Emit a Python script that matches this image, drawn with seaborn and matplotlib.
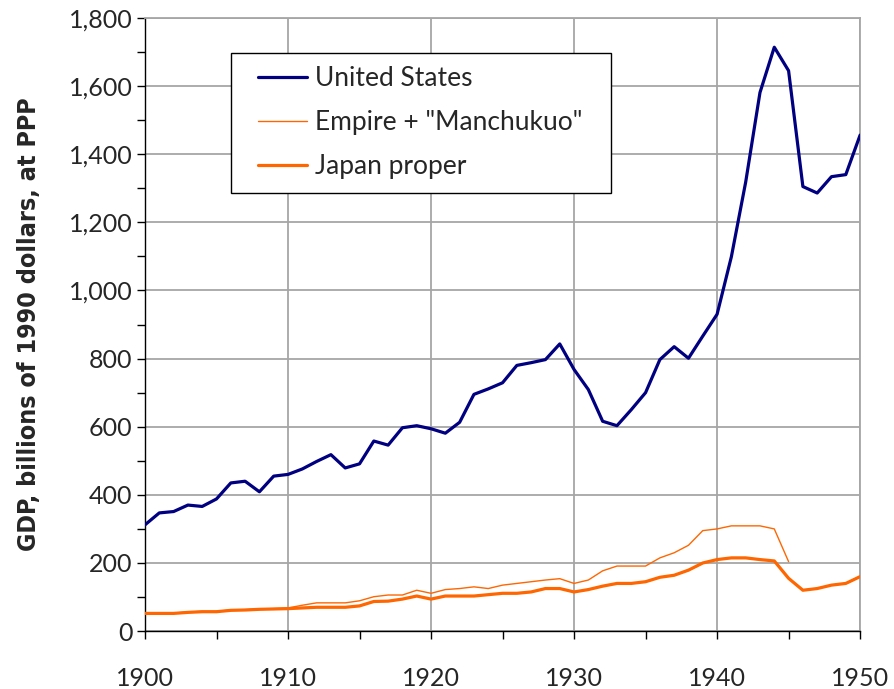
import numpy as np
import pandas as pd
import matplotlib
matplotlib.use("Agg")
import matplotlib.pyplot as plt
import seaborn as sns
from matplotlib.ticker import MultipleLocator, FuncFormatter
from matplotlib.patches import Rectangle

# GDP, billions of 1990 dollars at PPP
years = list(range(1900, 1951))

us_gdp = [312, 347, 351, 370, 366, 388, 435, 440, 409, 455,
          460, 476, 498, 518, 479, 491, 558, 546, 597, 603,
          594, 581, 613, 695, 711, 729, 780, 788, 797, 843,
          768, 709, 616, 603, 650, 700, 797, 835, 801, 866,
          930, 1099, 1318, 1581, 1714, 1645, 1305, 1286, 1334, 1340,
          1456]

empire_years = list(range(1900, 1946))
empire_gdp = [53, 53, 53, 56, 58, 58, 62, 63, 65, 66,
              68, 76, 83, 83, 83, 89, 101, 106, 106, 120,
              111, 122, 125, 130, 125, 135, 140, 145, 150, 154,
              140, 150, 177, 191, 191, 191, 215, 230, 252, 295,
              300, 309, 309, 309, 300, 204]

japan_gdp = [52, 52, 52, 55, 57, 57, 61, 62, 64, 65,
             66, 68, 70, 70, 70, 74, 87, 88, 94, 103,
             94, 103, 103, 103, 107, 111, 111, 115, 125, 125,
             115, 122, 132, 140, 140, 145, 158, 164, 179, 200,
             210, 215, 215, 210, 206, 155, 120, 125, 135, 140,
             160]

sns.set_style("white")
plt.rcParams['font.family'] = ['Lato', 'DejaVu Sans']

fig, ax = plt.subplots(figsize=(8.95, 6.89), dpi=100)
fig.subplots_adjust(left=0.162, right=0.961, bottom=0.084, top=0.974)

sns.lineplot(x=years, y=us_gdp, ax=ax, color='#000080', linewidth=2.3,
             label='United States', zorder=4)
sns.lineplot(x=empire_years, y=empire_gdp, ax=ax, color='#FF6600', linewidth=1.0,
             label='Empire + "Manchukuo"', zorder=3)
sns.lineplot(x=years, y=japan_gdp, ax=ax, color='#FF6600', linewidth=2.3,
             label='Japan proper', zorder=3)

ax.set_xlim(1900, 1950)
ax.set_ylim(0, 1800)
ax.xaxis.set_major_locator(MultipleLocator(10))
ax.xaxis.set_minor_locator(MultipleLocator(5))
ax.yaxis.set_major_locator(MultipleLocator(200))
ax.yaxis.set_minor_locator(MultipleLocator(100))
ax.yaxis.set_major_formatter(FuncFormatter(lambda v, p: f"{int(v):,}"))

ax.grid(True, which='major', color='#a6a6a6', linewidth=1.3)
ax.set_axisbelow(True)

for side in ['top', 'right']:
    ax.spines[side].set_color('#a6a6a6')
    ax.spines[side].set_linewidth(1.3)
for side in ['left', 'bottom']:
    ax.spines[side].set_color('black')
    ax.spines[side].set_linewidth(1.0)

ax.tick_params(which='both', direction='out', length=6, width=1.0, color='black',
               bottom=True, left=True)
ax.tick_params(axis='x', which='major', labelsize=18, pad=20)
ax.tick_params(axis='y', which='major', labelsize=18, pad=3)

ax.set_xlabel('')
ax.set_ylabel('GDP, billions of 1990 dollars, at PPP', fontsize=18, fontweight='bold',
              family='DejaVu Sans', fontstretch='condensed')
ax.yaxis.set_label_coords(-0.146, 0.5)

# legend box drawn separately so the padding can match the original
ax.add_patch(Rectangle((0.1203, 0.715), 0.5314, 0.2284, transform=ax.transAxes,
                       facecolor='white', edgecolor='black', linewidth=1.0,
                       zorder=5, clip_on=False))
leg = ax.legend(loc='upper left', bbox_to_anchor=(0.158, 0.922), fontsize=19,
                frameon=False, borderpad=0, handlelength=1.85,
                handletextpad=0.3, labelspacing=0.72, borderaxespad=0)
leg.set_zorder(6)

fig.savefig('out.png', dpi=100)
